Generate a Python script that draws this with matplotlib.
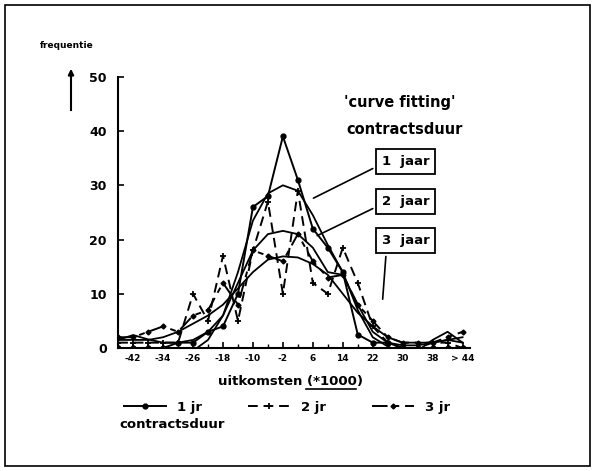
import matplotlib
matplotlib.use("Agg")
import matplotlib.pyplot as plt
from matplotlib.patches import Rectangle
from matplotlib.lines import Line2D

# klassen (midden, *1000)
uitkomsten = [-46, -42, -38, -34, -30, -26, -22, -18, -14, -10, -6, -2,
              2, 6, 10, 14, 18, 22, 26, 30, 34, 38, 42, 46]

jr1 = [0, 0, 0, 0, 1, 1, 3, 4, 10, 26, 28, 39,
       31, 22, 18.5, 14, 2.5, 1, 1, 0, 0, 0, 0, 0]
jr2 = [1, 1, 1, 1, 1, 10, 5, 17, 5, 18, 27, 10,
       29, 12, 10, 18.5, 12, 4, 1, 0, 0, 1, 1, 0]
jr3 = [2, 2, 3, 4, 3, 6, 7, 12, 8, 18, 17, 16,
       21, 16, 13, 13.5, 8, 5, 2, 1, 1, 1, 2, 3]

# 'curve fitting'
fit1 = [-20, -15, -10, -6, -3, -0.5, 1.5, 6, 14, 23.5, 28.5, 30,
        29, 24.5, 19, 14, 7, 2, 0.3, -1, -0.5, 1.5, 3, 1]
fit2 = [1.5, 2.4, 1.6, 1, 1, 1.5, 3, 6, 12, 18, 21, 21.6,
        21, 18.5, 14, 13.5, 8, 3, 1, 0.5, 0.5, 1, 1.5, 1]
fit3 = [1.5, 1.5, 1.5, 2, 3, 4.5, 6, 8, 11, 14, 16.3, 16.9,
        16.7, 15.5, 13.5, 10, 6.5, 4, 2, 1, 1, 1, 1.5, 2]

tick_pos = [-42, -34, -26, -18, -10, -2, 6, 14, 22, 30, 38, 46]
tick_lab = ["-42", "-34", "-26", "-18", "-10", "-2", "6", "14", "22",
            "30", "38", "> 44"]

fig = plt.figure(figsize=(5.95, 4.71), dpi=100)
ax = fig.add_axes([0.198, 0.261, 0.592, 0.576])

l1, = ax.plot(uitkomsten, jr1, color="black", lw=1.4, marker="o",
              markersize=3.5, label="1 jr")
l2, = ax.plot(uitkomsten, jr2, color="black", lw=1.4, ls=(0, (5, 3)),
              marker="+", markersize=5, mew=1.3, label="2 jr")
l3, = ax.plot(uitkomsten, jr3, color="black", lw=1.4, ls=(0, (8, 3, 3, 3)),
              marker="D", markersize=2.5, label="3 jr")

for f in (fit1, fit2, fit3):
    ax.plot(uitkomsten, f, color="black", lw=1.3)

ax.set_xlim(-46.1, 48)
ax.set_ylim(0, 50)
ax.spines["top"].set_visible(False)
ax.spines["right"].set_visible(False)
ax.spines["left"].set_linewidth(1.5)
ax.spines["bottom"].set_linewidth(1.5)

ax.set_yticks([0, 10, 20, 30, 40, 50])
ax.set_yticklabels(["0", "10", "20", "30", "40", "50"],
                   fontsize=9, fontweight="bold")
ax.set_xticks(tick_pos)
ax.set_xticklabels(tick_lab, fontsize=6.5, fontweight="bold")
ax.set_xticks(uitkomsten, minor=True)
ax.tick_params(axis="both", direction="in", length=4, width=1.2)
ax.tick_params(axis="x", which="minor", direction="in", length=3, width=1)
ax.tick_params(axis="y", pad=8)
ax.tick_params(axis="x", pad=4)

# labels met kaders
ax.text(0.80, 0.904, "'curve fitting'", transform=ax.transAxes,
        ha="center", va="center", fontsize=10.5, fontweight="bold")
ax.text(0.815, 0.804, "contractsduur", transform=ax.transAxes,
        ha="center", va="center", fontsize=10.5, fontweight="bold")

box = dict(boxstyle="square,pad=0.45", fc="white", ec="black", lw=1.3)
ax.annotate("1  jaar", xy=(5.5, 27.4), xytext=(30.8, 34.4),
            fontsize=9.5, fontweight="bold", va="center", ha="center",
            bbox=box, arrowprops=dict(arrowstyle="-", lw=1.2,
                                      relpos=(0, 0.3)))
ax.annotate("2  jaar", xy=(6.5, 20.5), xytext=(30.8, 27),
            fontsize=9.5, fontweight="bold", va="center", ha="center",
            bbox=box, arrowprops=dict(arrowstyle="-", lw=1.2,
                                      relpos=(0, 0.3)))
ax.annotate("3  jaar", xy=(24.6, 8.5), xytext=(30.8, 19.8),
            fontsize=9.5, fontweight="bold", va="center", ha="center",
            bbox=box, arrowprops=dict(arrowstyle="-", lw=1.2,
                                      relpos=(0.1, 0)))

# as-titels
fig.text(67 / 595, 1 - 45 / 471, "frequentie", ha="center", va="center",
         fontsize=6.5, fontweight="bold")
fig.add_artist(Line2D([71 / 595, 71 / 595], [1 - 110 / 471, 1 - 72 / 471],
                      color="black", lw=1.5))
ax.annotate("", xy=(71 / 595, 1 - 66 / 471), xytext=(71 / 595, 1 - 80 / 471),
            xycoords="figure fraction",
            arrowprops=dict(arrowstyle="-|>", color="black", lw=1.5,
                            mutation_scale=8))

fig.text(290 / 595, 1 - 381 / 471, "uitkomsten (*1000)", ha="center",
         va="center", fontsize=9.5, fontweight="bold")
fig.add_artist(Line2D([306 / 595, 356 / 595], [1 - 389 / 471, 1 - 389 / 471],
                      color="black", lw=1.2))

fig.legend(handles=[l1, l2, l3], loc="center left",
           bbox_to_anchor=(112 / 595, 1 - 407 / 471), ncol=3, frameon=False,
           handlelength=3.2, columnspacing=3.5,
           prop={"weight": "bold", "size": 9.5})
fig.text(172 / 595, 1 - 425 / 471, "contractsduur", ha="center",
         va="center", fontsize=9.5, fontweight="bold")

fig.add_artist(Rectangle((5 / 595, 5 / 471), 585 / 595, 461 / 471,
                         transform=fig.transFigure, fill=False,
                         ec="black", lw=1.2))

plt.savefig("out.png", dpi=100)
